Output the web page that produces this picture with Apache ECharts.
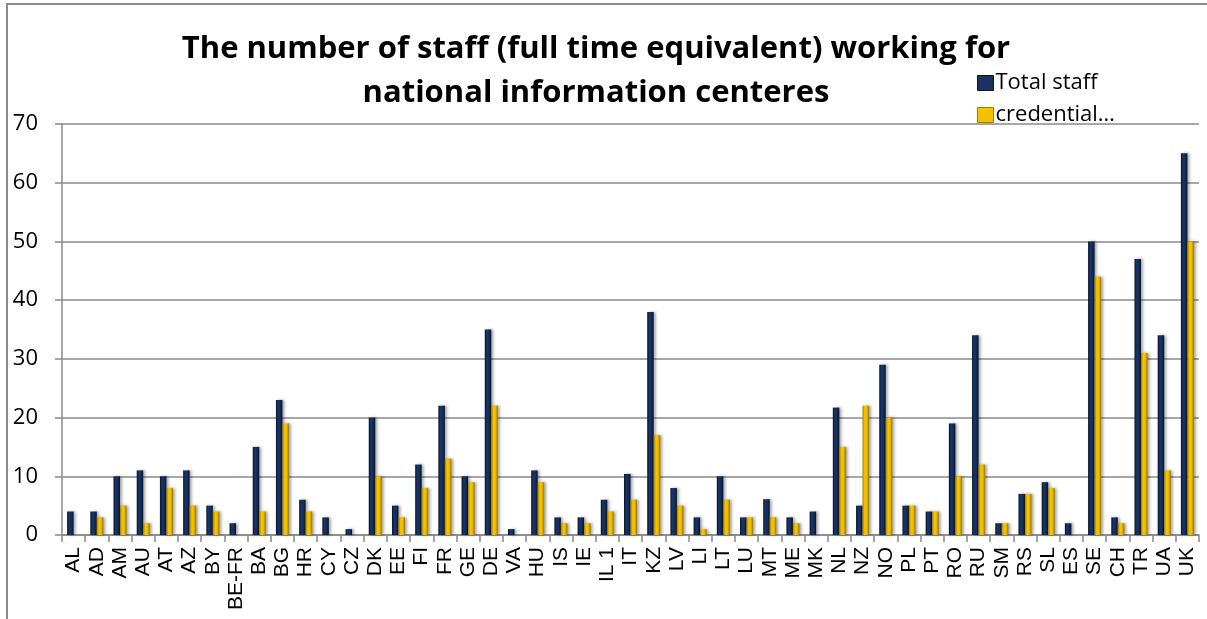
<!DOCTYPE html>
<html>
<head>
<meta charset="utf-8">
<script src="https://cdn.jsdelivr.net/npm/echarts@6/dist/echarts.min.js"></script>
<style>
  html, body { margin: 0; padding: 0; background: #fff; }
  #main { width: 1207px; height: 619px; }
</style>
</head>
<body>
<div id="main"></div>
<script>
// countries on the x axis
var countries = ["AL", "AD", "AM", "AU", "AT", "AZ", "BY", "BE-FR", "BA", "BG", "HR", "CY", "CZ", "DK",
  "EE", "FI", "FR", "GE", "DE", "VA", "HU", "IS", "IE", "IL 1", "IT", "KZ", "LV", "LI", "LT", "LU",
  "MT", "ME", "MK", "NL", "NZ", "NO", "PL", "PT", "RO", "RU", "SM", "RS", "SL", "ES", "SE", "CH",
  "TR", "UA", "UK"];

// total staff (FTE)
var totalStaff = [4, 4, 10, 11, 10, 11, 5, 2, 15, 23, 6, 3, 1, 20,
  5, 12, 22, 10, 35, 1, 11, 3, 3, 6, 10.4, 38, 8, 3, 10, 3,
  6.1, 3, 4, 21.7, 5, 29, 5, 4, 19, 34, 2, 7, 9, 2, 50, 3,
  47, 34, 65];

// credential evaluators (FTE)
var credential = [0, 3, 5, 2, 8, 5, 4, 0, 4, 19, 4, 0, 0, 10,
  3, 8, 13, 9, 22, 0, 9, 2, 2, 4, 6, 17, 5, 1, 6, 3,
  3, 2, 0, 15, 22, 20, 5, 4, 10, 12, 2, 7, 8, 0, 44, 2,
  31, 11, 50];

var seriesNames = ["Total staff", "credential evaluators"];
var yTicks = [0, 10, 20, 30, 40, 50, 60, 70];

var navy = new echarts.graphic.LinearGradient(0, 0, 1, 0, [
  { offset: 0, color: "#06142e" },
  { offset: 0.35, color: "#1b3566" },
  { offset: 0.65, color: "#142d5a" },
  { offset: 1, color: "#06122a" }
]);
var gold = new echarts.graphic.LinearGradient(0, 0, 1, 0, [
  { offset: 0, color: "#a87c00" },
  { offset: 0.35, color: "#f6c800" },
  { offset: 0.65, color: "#eebb00" },
  { offset: 1, color: "#9c7400" }
]);

var myChart = echarts.init(document.getElementById("main"));
myChart.setOption({
  animation: false,
  textStyle: { fontFamily: "Open Sans" },
  title: {
    text: "The number of staff (full time equivalent) working for\nnational information centeres",
    left: 591,
    top: 22,
    textAlign: "center",
    textStyle: {
      fontFamily: "Open Sans",
      fontWeight: "bold",
      fontSize: 31,
      lineHeight: 44,
      color: "#000"
    }
  },
  legend: {
    orient: "vertical",
    left: 972,
    top: 65,
    itemWidth: 16,
    itemHeight: 15,
    itemGap: 6,
    icon: "rect",
    data: [
      { name: seriesNames[0], itemStyle: { color: "#1a3161", borderColor: "#08162f", borderWidth: 1 } },
      { name: seriesNames[1], itemStyle: { color: "#f2c200", borderColor: "#a87c00", borderWidth: 1 } }
    ],
    formatter: function (name) {
      return name === seriesNames[1] ? "credential\u2026" : name;
    },
    textStyle: { fontSize: 22, lineHeight: 26, color: "#000", fontFamily: "Open Sans", padding: [0, 0, 0, -3] }
  },
  graphic: [
    {
      type: "rect",
      z: -10,
      shape: { x: 7, y: 4, width: 1300, height: 700 },
      style: { fill: "none", stroke: "#8a8a8a", lineWidth: 2 }
    }
  ],
  grid: { left: 62, right: 8, top: 124, bottom: 84 },
  xAxis: {
    type: "category",
    data: countries,
    axisLine: { lineStyle: { color: "#888", width: 1.5 } },
    axisTick: { show: true, length: 7, interval: 0, lineStyle: { color: "#888", width: 1.5 } },
    axisLabel: {
      interval: 0,
      rotate: 90,
      margin: 12,
      fontSize: 21,
      color: "#000",
      fontFamily: "Liberation Sans"
    }
  },
  yAxis: {
    type: "value",
    min: yTicks[0],
    max: yTicks[yTicks.length - 1],
    interval: 10,
    axisLine: { show: true, lineStyle: { color: "#888", width: 1.5 } },
    axisTick: { show: true, length: 7, lineStyle: { color: "#888", width: 1.5 } },
    axisLabel: { fontSize: 22, color: "#000", margin: 24, fontFamily: "Open Sans" },
    splitLine: { lineStyle: { color: "#8a8a8a", width: 1.5 } }
  },
  series: [
    {
      name: seriesNames[0],
      type: "bar",
      data: totalStaff,
      barWidth: 6.5,
      barGap: "0%",
      itemStyle: {
        color: navy,
        shadowColor: "rgba(0,0,0,0.35)",
        shadowBlur: 3,
        shadowOffsetX: 2
      }
    },
    {
      name: seriesNames[1],
      type: "bar",
      data: credential,
      barWidth: 6.5,
      barGap: "0%",
      itemStyle: {
        color: gold,
        shadowColor: "rgba(0,0,0,0.35)",
        shadowBlur: 3,
        shadowOffsetX: 2
      }
    }
  ]
});
</script>
</body>
</html>
